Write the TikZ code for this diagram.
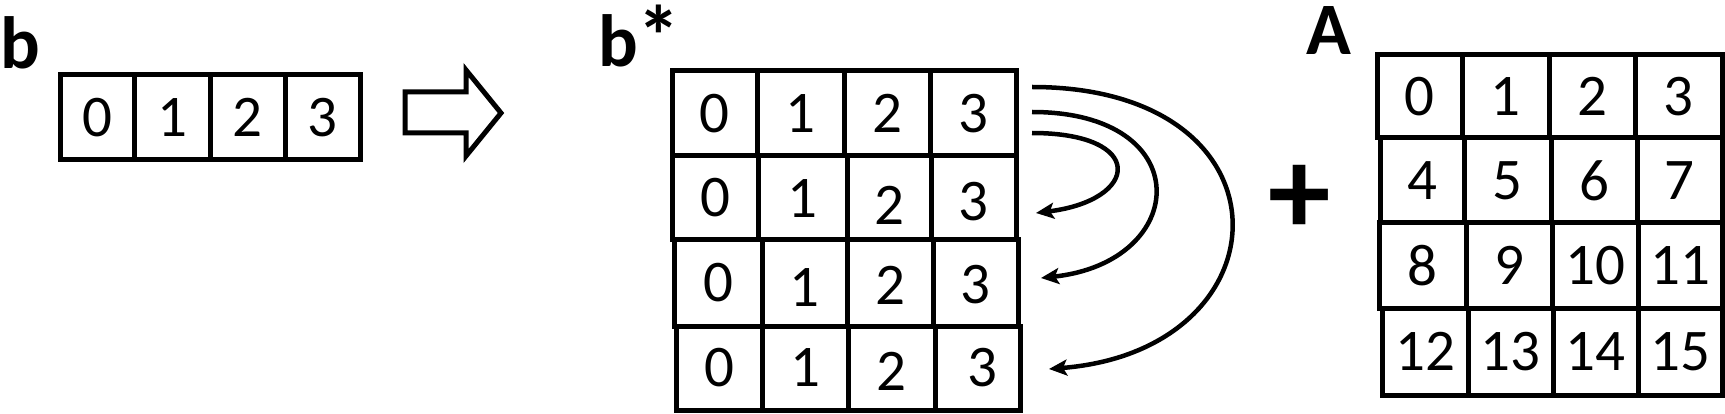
\documentclass[tikz,border=0pt]{standalone}
\usepackage{fontspec}
\setmainfont{Carlito}
\usetikzlibrary{arrows.meta}
\newcommand\mycell[6]{%
  \node[cell, minimum width={#4-#2}, minimum height={#5-#3}] (#1) at ({(#2+#4)/2},{(#3+#5)/2}) {#6};}
\newcommand\dn[2]{\raisebox{-#1pt}[\height][\depth]{#2}}
\begin{document}
\begin{tikzpicture}[x=1pt,y=-1pt,
  cell/.style={draw, line width=5pt, inner sep=0pt, outer sep=0pt, anchor=center,
    font=\fontsize{59}{60}\selectfont},
  lbl/.style={inner sep=0pt, outer sep=0pt, font=\fontsize{74}{75}\selectfont\bfseries},
  conn/.style={line width=4.5pt, -{Stealth[length=18pt,width=16pt,inset=4pt]}}]
\useasboundingbox (0,0) rectangle (1725,414);
% labels
\node[lbl, anchor=base west] (lb) at (0,69) {b};
\node[lbl, anchor=base west] (lbs) at (598,67) {b{\fontsize{86}{86}\selectfont *}};
\node[lbl, anchor=base west] (lA) at (1306,55) {A};
\node[inner sep=0pt, font=\fontsize{125}{126}\selectfont\bfseries] (plus) at (1300,200) {+};
% row b
\mycell{b0}{60}{75}{134}{160}{0}
\mycell{b1}{134}{75}{210}{160}{1}
\mycell{b2}{210}{75}{285}{160}{2}
\mycell{b3}{285}{75}{360}{160}{3}
% block arrow
\draw[line width=5pt, line join=miter] (405,92) -- (466,92) -- (466,70) -- (501,113)
  -- (466,156) -- (466,133) -- (405,133) -- cycle;
% b* grid
\mycell{s11}{672}{71}{757}{156}{0}
\mycell{s12}{757}{71}{844}{156}{1}
\mycell{s13}{844}{71}{930}{156}{2}
\mycell{s14}{930}{71}{1016}{156}{3}
\mycell{s21}{672}{156}{758}{240}{0}
\mycell{s22}{758}{156}{847}{240}{\dn{1}{1}}
\mycell{s23}{847}{156}{931}{240}{\dn{7}{2}}
\mycell{s24}{931}{156}{1016}{240}{\dn{4}{3}}
\mycell{s31}{674}{240}{762}{326}{0}
\mycell{s32}{762}{240}{847}{326}{\dn{5}{1}}
\mycell{s33}{847}{240}{933}{326}{\dn{2}{2}}
\mycell{s34}{933}{240}{1018}{326}{\dn{2}{3}}
\mycell{s41}{676}{326}{762}{410}{0}
\mycell{s42}{762}{326}{848}{410}{1}
\mycell{s43}{848}{326}{935}{410}{\dn{3}{2}}
\mycell{s44}{935}{326}{1020}{410}{\hspace*{10pt}3}
% A grid
\foreach \r/\ya/\yb/\xa/\xb/\xc/\xd/\xe in
  {1/55/138/1377/1462/1549/1635/1722,
   2/138/223/1380/1464/1551/1637/1722,
   3/223/308/1379/1466/1552/1638/1722,
   4/308/395/1382/1468/1553/1638/1722}{
  \pgfmathtruncatemacro\na{4*(\r-1)}
  \pgfmathtruncatemacro\nb{4*(\r-1)+1}
  \pgfmathtruncatemacro\nc{4*(\r-1)+2}
  \pgfmathtruncatemacro\nd{4*(\r-1)+3}
  \mycell{a\r1}{\xa}{\ya}{\xb}{\yb}{\na}
  \mycell{a\r2}{\xb}{\ya}{\xc}{\yb}{\nb}
  \mycell{a\r3}{\xc}{\ya}{\xd}{\yb}{\nc}
  \mycell{a\r4}{\xd}{\ya}{\xe}{\yb}{\nd}
}
% curved arrows
\coordinate (s1) at (1032,133);
\coordinate (e1) at (1036,213);
\coordinate (s2) at (1032,112);
\coordinate (e2) at (1041,278);
\coordinate (s3) at (1032,87);
\coordinate (e3) at (1049,369);
\draw[conn] (s1) .. controls (1147,133) and (1140,200) .. (e1);
\draw[conn] (s2) .. controls (1199,112) and (1190,262) .. (e2);
\draw[conn] (s3) .. controls (1299,87) and (1290,350) .. (e3);
\end{tikzpicture}
\end{document}
